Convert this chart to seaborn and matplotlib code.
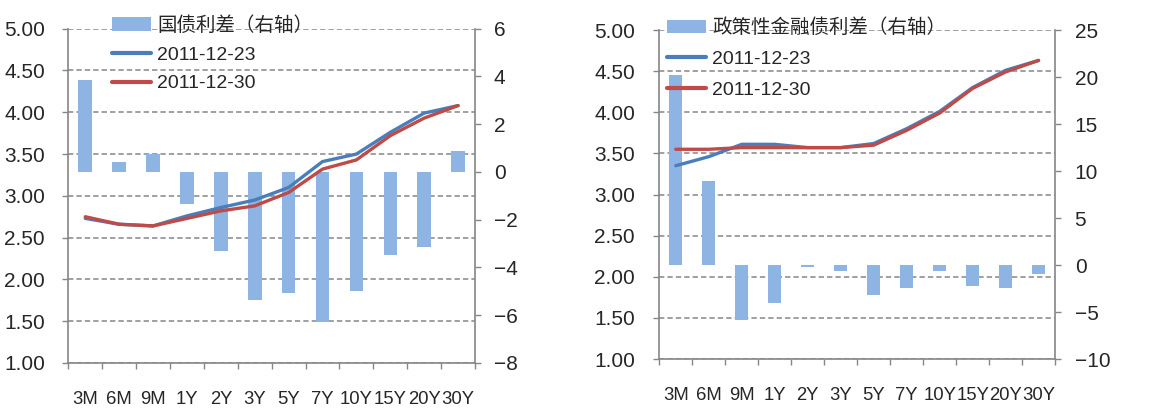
import numpy as np
import matplotlib
matplotlib.use("Agg")
import matplotlib.pyplot as plt
import seaborn as sns
from matplotlib.lines import Line2D
from matplotlib.patches import Patch
from matplotlib.ticker import FormatStrFormatter

sns.set_style("white")
plt.rcParams['font.family'] = ['Liberation Sans', 'Noto Sans CJK SC']

tenors = ['3M', '6M', '9M', '1Y', '2Y', '3Y', '5Y', '7Y', '10Y', '15Y', '20Y', '30Y']
dates = ['2011-12-23', '2011-12-30']

# 国债收益率 (%) and 利差 (bp, 右轴)
gov_1223 = [2.73, 2.66, 2.64, 2.76, 2.86, 2.95, 3.10, 3.41, 3.50, 3.76, 3.99, 4.08]
gov_1230 = [2.75, 2.66, 2.64, 2.73, 2.82, 2.88, 3.04, 3.32, 3.43, 3.72, 3.93, 4.08]
gov_spread = [3.85, 0.40, 0.75, -1.33, -3.29, -5.37, -5.05, -6.28, -4.99, -3.46, -3.15, 0.88]

# 政策性金融债收益率 (%) and 利差 (bp, 右轴)
pol_1223 = [3.35, 3.46, 3.61, 3.61, 3.57, 3.57, 3.62, 3.80, 4.01, 4.30, 4.51, 4.63]
pol_1230 = [3.55, 3.55, 3.57, 3.57, 3.57, 3.57, 3.60, 3.78, 3.99, 4.29, 4.49, 4.63]
pol_spread = [20.2, 8.9, -5.9, -4.0, -0.2, -0.6, -3.2, -2.4, -0.6, -2.2, -2.4, -1.0]

BAR = '#8DB4E2'
BLUE = '#4A7EBB'
RED = '#BE4B48'
GREY = '#868686'

fig = plt.figure(figsize=(11.64, 4.11), dpi=100)


def draw_panel(rect, y_a, y_b, spread, spread_name, r_lim, r_ticks, pads, legend_xy, spacing):
    pos = np.arange(len(tenors))

    ax = fig.add_axes(rect)
    ax.set_ylim(1, 5)
    ax.set_yticks(np.arange(1, 5.01, 0.5))
    ax.yaxis.set_major_formatter(FormatStrFormatter('%.2f'))
    ax.grid(axis='y', color=GREY, linestyle=(0, (3.5, 2)), linewidth=1.1)
    ax.set_axisbelow(True)

    # bars on the right axis
    axb = ax.twinx()
    sns.barplot(x=tenors, y=spread, ax=axb, color=BAR, width=0.4,
                saturation=1, errorbar=None, linewidth=0)
    axb.set_ylim(*r_lim)
    axb.set_yticks(r_ticks)

    # lines on top, sharing the left scale
    axl = ax.twinx()
    sns.lineplot(x=pos, y=y_a, ax=axl, color=BLUE, linewidth=2.4)
    sns.lineplot(x=pos, y=y_b, ax=axl, color=RED, linewidth=2.4)
    axl.set_ylim(1, 5)
    axl.set_yticks([])
    for s in axl.spines.values():
        s.set_visible(False)

    ax.set_xlim(-0.5, len(tenors) - 0.5)
    ax.set_xticks(np.arange(-0.5, len(tenors)), labels=[''] * (len(tenors) + 1))
    ax.set_xticks(pos, labels=tenors, minor=True)
    ax.tick_params(axis='x', which='major', direction='out', length=4.5, width=1, color=GREY, bottom=True)
    ax.tick_params(axis='x', which='minor', length=0, pad=20, labelsize=13.3, bottom=True)
    ax.tick_params(axis='y', direction='out', length=4.2, width=1, color=GREY,
                   labelsize=15, pad=pads[0], left=True)
    axb.tick_params(axis='y', direction='out', length=4.2, width=1, color=GREY,
                    labelsize=15, pad=pads[1], right=True)
    axb.set_xlabel('')
    axb.set_ylabel('')
    axl.set_xlabel('')

    for name in ['top', 'right']:
        ax.spines[name].set_visible(False)
    for name in ['left', 'bottom']:
        ax.spines[name].set_color(GREY)
        ax.spines[name].set_linewidth(1.2)
    for name in ['top', 'left', 'bottom']:
        axb.spines[name].set_visible(False)
    axb.spines['right'].set_color(GREY)
    axb.spines['right'].set_linewidth(1.2)

    handles = [Patch(facecolor=BAR, edgecolor='none'),
               Line2D([], [], color=BLUE, linewidth=3),
               Line2D([], [], color=RED, linewidth=3)]
    axl.legend(handles, [spread_name] + dates, loc='upper left',
               bbox_to_anchor=legend_xy, bbox_transform=fig.transFigure,
               frameon=False, fontsize=14, borderpad=0, borderaxespad=0,
               handlelength=2.0, handletextpad=0.35, labelspacing=spacing)


draw_panel([0.0587, 0.1168, 0.3494, 0.8134], gov_1223, gov_1230, gov_spread,
           '国债利差（右轴）', (-8, 6), np.arange(-8, 6.1, 2), (12.6, 9.2),
           (0.096, 0.961), 0.58)
draw_panel([0.5664, 0.1265, 0.3400, 0.8005], pol_1223, pol_1230, pol_spread,
           '政策性金融债利差（右轴）', (-10, 25), np.arange(-10, 25.1, 5), (13.3, 9.9),
           (0.5728, 0.955), 0.68)

fig.savefig('out.png', dpi=100)
